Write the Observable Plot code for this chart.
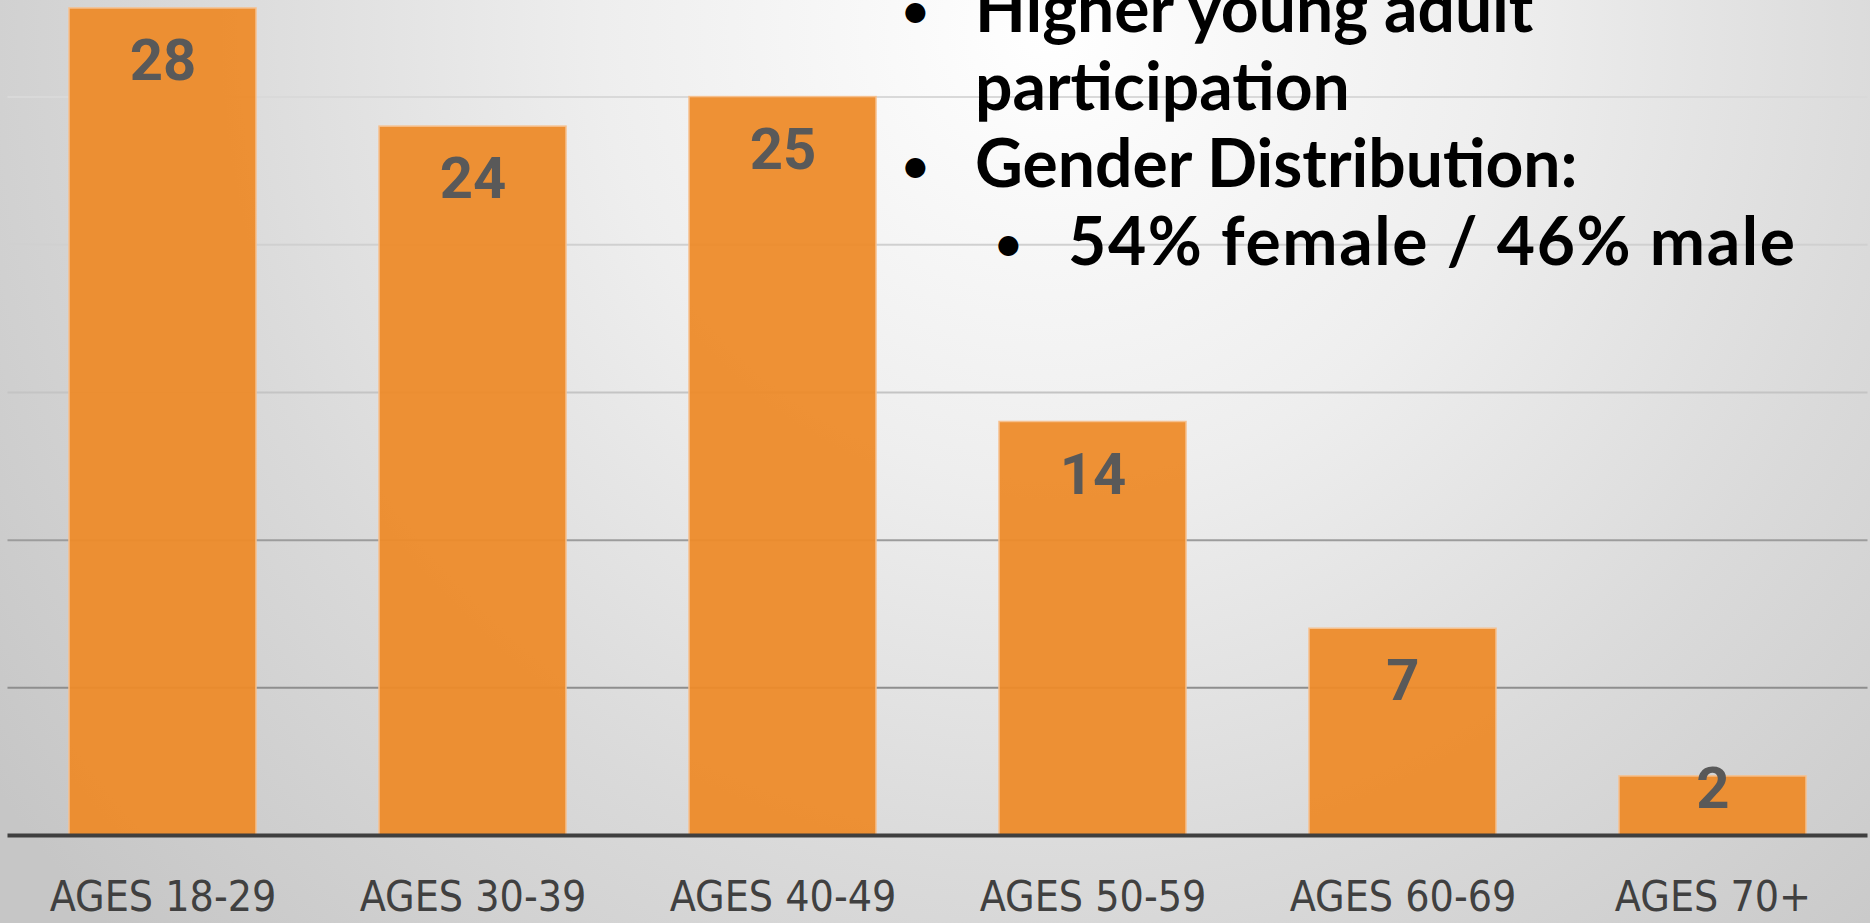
<!DOCTYPE html>
<html>
<head>
<meta charset="utf-8">
<script src="https://cdn.jsdelivr.net/npm/d3@7"></script>
<script src="https://cdn.jsdelivr.net/npm/@observablehq/plot@0.6"></script>
<style>
  html, body { margin: 0; padding: 0; width: 1870px; height: 923px; overflow: hidden; }
  #stage {
    position: relative; width: 1870px; height: 923px; overflow: hidden;
    background: radial-gradient(circle at 1050px 30px, #ffffff 0px, #eeeeee 450px, #dadada 850px, #c6c6c6 1300px);
  }
  #chart { position: absolute; left: 0; top: 0; }
  #notes { position: absolute; left: 0; top: 0; width: 1870px; height: 923px; pointer-events: none; }
  .line {
    position: absolute; white-space: nowrap; color: #000;
    font-family: Lato, "Noto Sans", sans-serif; font-weight: 700; font-size: 66px; line-height: 1;
  }
  .bullet { font-size: 46px; }
</style>
</head>
<body>
<div id="stage">
  <div id="chart"></div>
  <div id="notes"></div>
</div>
<script>
// ---- data ----
const categories = ["AGES 18-29", "AGES 30-39", "AGES 40-49", "AGES 50-59", "AGES 60-69", "AGES 70+"];
const values = [28, 24, 25, 14, 7, 2];
const gridTicks = [5, 10, 15, 20, 25];
const noteTexts = ["Higher young adult", "participation", "Gender Distribution:", "54% female / 46% male"];
const noteLevels = [1, 1, 1, 2];
const noteBullets = [true, false, true, true];

const data = categories.map((c, i) => ({category: c, value: values[i]}));

const gridColor = d3.scaleLinear()
  .domain([5, 10, 15, 20, 25])
  .range(["#8e8e8e", "#9c9c9c", "#c4c4c4", "#d0d0d0", "#d9d9d9"]);

const chart = Plot.plot({
  width: 1870,
  height: 923,
  marginLeft: 7.5,
  marginRight: 2.5,
  marginTop: 0,
  marginBottom: 88,
  style: {background: "transparent", overflow: "visible"},
  x: {domain: categories, paddingInner: 0.397, paddingOuter: 0.1985, label: null},
  y: {domain: [0, 28.27], axis: null},
  marks: [
    Plot.ruleY(gridTicks, {stroke: d => gridColor(d), strokeWidth: 2}),
    Plot.barY(data, {x: "category", y: "value", fill: "#ED8B2A", fillOpacity: 0.95, stroke: "#F6C08E", strokeWidth: 1.5}),
    Plot.ruleY([0], {stroke: "#3f3f3f", strokeWidth: 4}),
    Plot.text(data, {
      x: "category",
      y: d => Math.max(d.value - 1.8, 1.55),
      text: d => String(d.value),
      fill: "#595959", fontSize: 58, fontWeight: "bold", fontFamily: "Roboto, 'Liberation Sans', sans-serif"
    }),
    Plot.axisX({
      tickSize: 0, tickPadding: 45, fontSize: 42.5, fill: "#404040", label: null,
      fontFamily: "'Liberation Sans Narrow', 'DejaVu Sans Condensed', 'Arial Narrow', sans-serif"
    })
  ]
});
document.getElementById("chart").append(chart);

// ---- bullet notes overlay ----
const notes = document.getElementById("notes");
const lineTop0 = -26, linePitch = 77.5;
const textLeft = {1: 975, 2: 1068};
const bulletLeft = {1: 902, 2: 995};
noteTexts.forEach((t, i) => {
  const lv = noteLevels[i];
  const top = lineTop0 + i * linePitch;
  if (noteBullets[i]) {
    const b = document.createElement("div");
    b.className = "line bullet";
    b.style.left = bulletLeft[lv] + "px";
    b.style.top = (top + 13) + "px";
    b.textContent = "•";
    notes.append(b);
  }
  const el = document.createElement("div");
  el.className = "line";
  el.style.left = textLeft[lv] + "px";
  el.style.top = top + "px";
  if (lv === 2) el.style.letterSpacing = "1.6px";
  el.textContent = t;
  notes.append(el);
});
</script>
</body>
</html>
